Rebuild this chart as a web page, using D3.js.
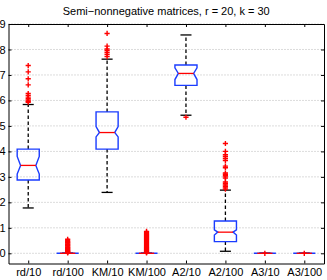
<!DOCTYPE html>
<html>
<head>
<meta charset="utf-8">
<script src="https://cdn.jsdelivr.net/npm/d3@7"></script>
<style>
  body { margin: 0; background: #fff; }
  text { font-family: "Liberation Sans", Arial, sans-serif; font-size: 11px; fill: #000; }
</style>
</head>
<body>
<svg id="chart"></svg>
<script>
// box stats
var categories = ['rd/10', 'rd/100', 'KM/10', 'KM/100', 'A2/10', 'A2/100', 'A3/10', 'A3/100'];
var whiskerLow  = [1.78, 0, 2.39, 0, 5.42, 0.08, 0, 0];
var q1          = [2.88, 0, 4.09, 0, 6.59, 0.46, 0, 0];
var notchLow    = [3.11, 0, 4.57, 0, 6.82, 0.72, 0, 0];
var medians     = [3.45, 0, 4.74, 0, 7.06, 0.83, 0, 0];
var notchHigh   = [3.80, 0, 4.97, 0, 7.28, 0.92, 0, 0];
var q3          = [4.09, 0, 5.55, 0, 7.39, 1.27, 0, 0];
var whiskerHigh = [5.84, 0, 7.62, 0, 8.57, 2.48, 0, 0];
var outliers = [
    [7.37, 7.12, 6.85, 6.61, 6.27, 6.2, 6.13, 6.07, 6.02, 5.97, 5.93],
    [0.55, 0.5, 0.46, 0.43, 0.4, 0.37, 0.34, 0.31, 0.28, 0.25, 0.22, 0.19, 0.16, 0.13, 0.1, 0.08, 0.06, 0.04, 0.02],
    [8.63, 8.13, 8.02, 7.96, 7.88, 7.8, 7.72],
    [0.86, 0.82, 0.78, 0.74, 0.7, 0.66, 0.62, 0.58, 0.54, 0.5, 0.46, 0.42, 0.38, 0.34, 0.3, 0.26, 0.22, 0.18, 0.14, 0.1, 0.07, 0.04, 0.02],
    [5.34],
    [4.31, 4.0, 3.87, 3.8, 3.72, 3.64, 3.42, 3.36, 3.15, 3.1, 3.05, 3.0, 2.95, 2.8, 2.74, 2.68, 2.62, 2.57, 2.52],
    [0],
    [0]
];
var yTicks = [0, 1, 2, 3, 4, 5, 6, 7, 8, 9];
var title = 'Semi\u2212nonnegative matrices, r = 20, k = 30';

var canvasWidth = 327;
var canvasHeight = 280;
var plot = { left: 8.5, right: 324, top: 24, bottom: 263.5 };

var svg = d3.select('#chart')
    .attr('width', canvasWidth)
    .attr('height', canvasHeight);

var xScale = d3.scaleLinear()
    .domain([0.5, categories.length + 0.5])
    .range([plot.left, plot.right]);
var yScale = d3.scaleLinear()
    .domain([-0.4, 9])
    .range([plot.bottom, plot.top]);

var unit = xScale(2) - xScale(1);
var halfBox = unit * 0.28;
var halfNotch = halfBox * 0.69;
var halfCap = halfBox * 0.5;

// dotted horizontal grid
svg.append('g').selectAll('line')
    .data(yTicks)
    .enter().append('line')
    .attr('x1', plot.left).attr('x2', plot.right)
    .attr('y1', function (d) { return yScale(d); })
    .attr('y2', function (d) { return yScale(d); })
    .attr('stroke', '#b8b8b8')
    .attr('stroke-width', 1)
    .attr('stroke-dasharray', '1,2');

// axes, ticks pointing inward on all four sides
var leftAxis = d3.axisLeft(yScale).tickValues(yTicks).tickSizeInner(-3).tickSizeOuter(0).tickPadding(3);
var rightAxis = d3.axisRight(yScale).tickValues(yTicks).tickSizeInner(-3).tickSizeOuter(0).tickFormat('');
var catTicks = d3.range(1, categories.length + 1);
var bottomAxis = d3.axisBottom(xScale).tickValues(catTicks).tickSizeInner(-3).tickSizeOuter(0)
    .tickPadding(5)
    .tickFormat(function (d) { return categories[d - 1]; });
var topAxis = d3.axisTop(xScale).tickValues(catTicks).tickSizeInner(-3).tickSizeOuter(0).tickFormat('');

svg.append('g').attr('transform', 'translate(' + plot.left + ',0)').call(leftAxis);
svg.append('g').attr('transform', 'translate(' + plot.right + ',0)').call(rightAxis);
svg.append('g').attr('transform', 'translate(0,' + plot.bottom + ')').call(bottomAxis);
svg.append('g').attr('transform', 'translate(0,' + plot.top + ')').call(topAxis);

svg.selectAll('.domain').attr('stroke', '#000').attr('stroke-width', 1);
svg.selectAll('.tick line').attr('stroke', '#000');
svg.selectAll('.tick text').style('font-family', '"Liberation Sans", Arial, sans-serif').style('font-size', '11px').attr('fill', '#000');

// title
svg.append('text')
    .attr('x', (plot.left + plot.right) / 2)
    .attr('y', 14.5)
    .attr('text-anchor', 'middle')
    .text(title);

var boxes = svg.append('g');
categories.forEach(function (c, i) {
    var cx = xScale(i + 1);
    var g = boxes.append('g');

    // whiskers
    g.append('line')
        .attr('x1', cx).attr('x2', cx)
        .attr('y1', yScale(q3[i])).attr('y2', yScale(whiskerHigh[i]))
        .attr('stroke', '#000').attr('stroke-width', 1.3).attr('stroke-dasharray', '3.5,2.5');
    g.append('line')
        .attr('x1', cx).attr('x2', cx)
        .attr('y1', yScale(q1[i])).attr('y2', yScale(whiskerLow[i]))
        .attr('stroke', '#000').attr('stroke-width', 1.3).attr('stroke-dasharray', '3.5,2.5');
    [whiskerHigh[i], whiskerLow[i]].forEach(function (v) {
        g.append('line')
            .attr('x1', cx - halfCap).attr('x2', cx + halfCap)
            .attr('y1', yScale(v)).attr('y2', yScale(v))
            .attr('stroke', '#000').attr('stroke-width', 1.3);
    });

    // notched box
    var pts = [
        [cx - halfBox, yScale(q3[i])], [cx + halfBox, yScale(q3[i])],
        [cx + halfBox, yScale(notchHigh[i])], [cx + halfNotch, yScale(medians[i])],
        [cx + halfBox, yScale(notchLow[i])], [cx + halfBox, yScale(q1[i])],
        [cx - halfBox, yScale(q1[i])], [cx - halfBox, yScale(notchLow[i])],
        [cx - halfNotch, yScale(medians[i])], [cx - halfBox, yScale(notchHigh[i])]
    ];
    g.append('path')
        .attr('d', d3.line()(pts) + 'Z')
        .attr('fill', 'none')
        .attr('stroke', '#1a3cff')
        .attr('stroke-width', 1.4);

    // median
    g.append('line')
        .attr('x1', cx - halfNotch).attr('x2', cx + halfNotch)
        .attr('y1', yScale(medians[i])).attr('y2', yScale(medians[i]))
        .attr('stroke', '#ff0000').attr('stroke-width', 1.3);

    // outliers as red plus signs
    g.selectAll('.out')
        .data(outliers[i])
        .enter().append('path')
        .attr('class', 'out')
        .attr('d', function (d) {
            var y = yScale(d);
            return 'M' + (cx - 2.6) + ',' + y + 'H' + (cx + 2.6) + 'M' + cx + ',' + (y - 2.6) + 'V' + (y + 2.6);
        })
        .attr('stroke', '#ff0000')
        .attr('stroke-width', 1.4)
        .attr('fill', 'none');
});
</script>
</body>
</html>
